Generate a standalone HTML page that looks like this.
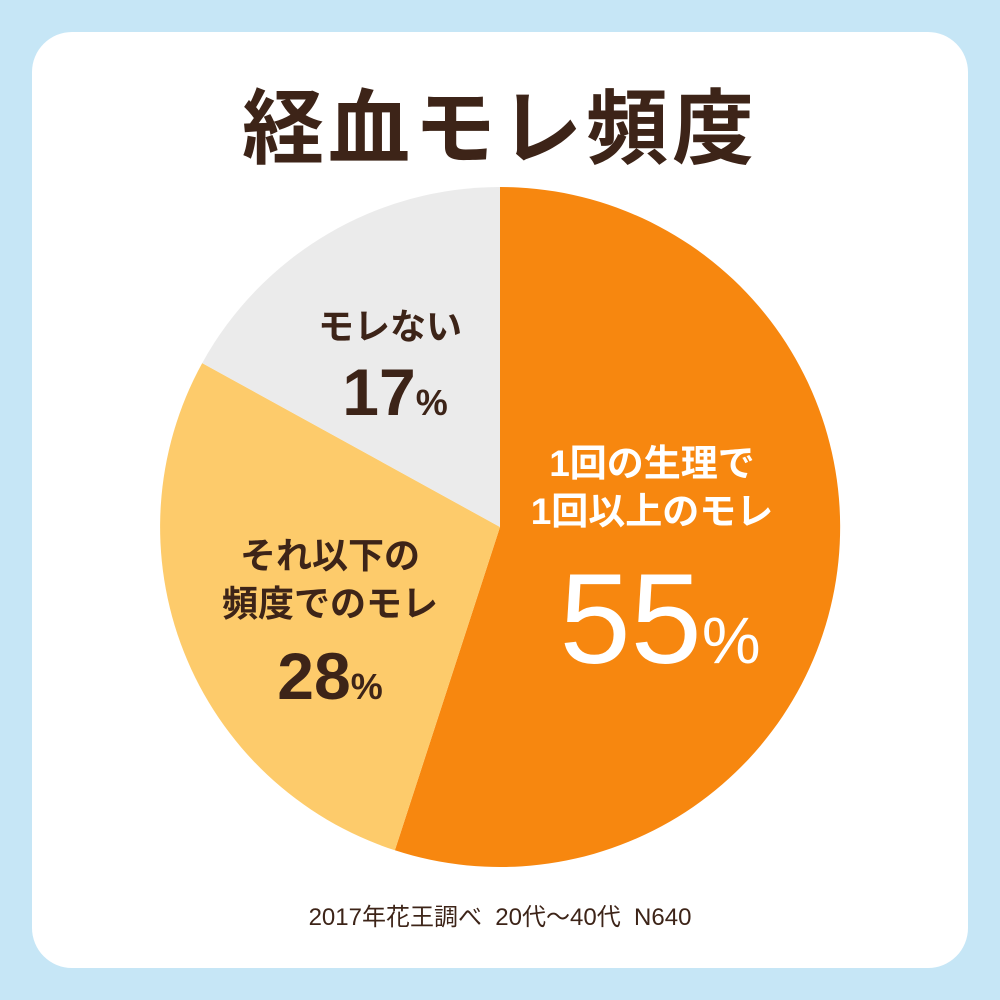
<!DOCTYPE html>
<html><head><meta charset="utf-8"><style>
html,body{margin:0;padding:0}
body{width:1000px;height:1000px;background:#c6e6f6;position:relative;overflow:hidden;font-family:"Liberation Sans","Noto Sans CJK JP",sans-serif}
.card{position:absolute;left:32px;top:32px;width:936px;height:936px;background:#fff;border-radius:40px}
.t{position:absolute;white-space:nowrap;text-align:center;transform:translateX(-50%);font-weight:bold;color:#3d2418}
</style></head><body>
<div class="card"></div>
<svg width="1000" height="1000" style="position:absolute;left:0;top:0">
<path d="M500,527 L500,187 A340,340 0 1,1 394.9,850.3 Z" fill="#f7870f"/>
<path d="M500,527 L394.9,850.3 A340,340 0 0,1 202.2,363.1 Z" fill="#fdcb6b"/>
<path d="M500,527 L202.2,363.1 A340,340 0 0,1 500,187 Z" fill="#ebebeb"/>
</svg>
<div class="t" style="left:500px;top:82px;font-size:82px;line-height:96px;letter-spacing:4px">経血モレ頻度</div>
<div class="t" style="left:390px;top:305px;font-size:36px;line-height:44px">モレない</div>
<div class="t" style="left:395px;top:352px;font-size:66px;line-height:80px">17<span style="font-size:36px">%</span></div>
<div class="t" style="left:330px;top:532px;font-size:36px;line-height:48px">それ以下の<br>頻度でのモレ</div>
<div class="t" style="left:330px;top:636px;font-size:66px;line-height:80px">28<span style="font-size:36px">%</span></div>
<div class="t" style="left:652px;top:440px;font-size:37px;line-height:48px;color:#fff">1回の生理で<br>1回以上のモレ</div>
<div class="t" style="left:660px;top:545px;font-size:128px;line-height:150px;color:#fff;font-weight:normal">55<span style="font-size:66px">%</span></div>
<div class="t" style="left:500px;top:902px;font-size:24px;line-height:32px;font-weight:normal">2017年花王調べ&nbsp;&nbsp;20代〜40代&nbsp;&nbsp;N640</div>
</body></html>
